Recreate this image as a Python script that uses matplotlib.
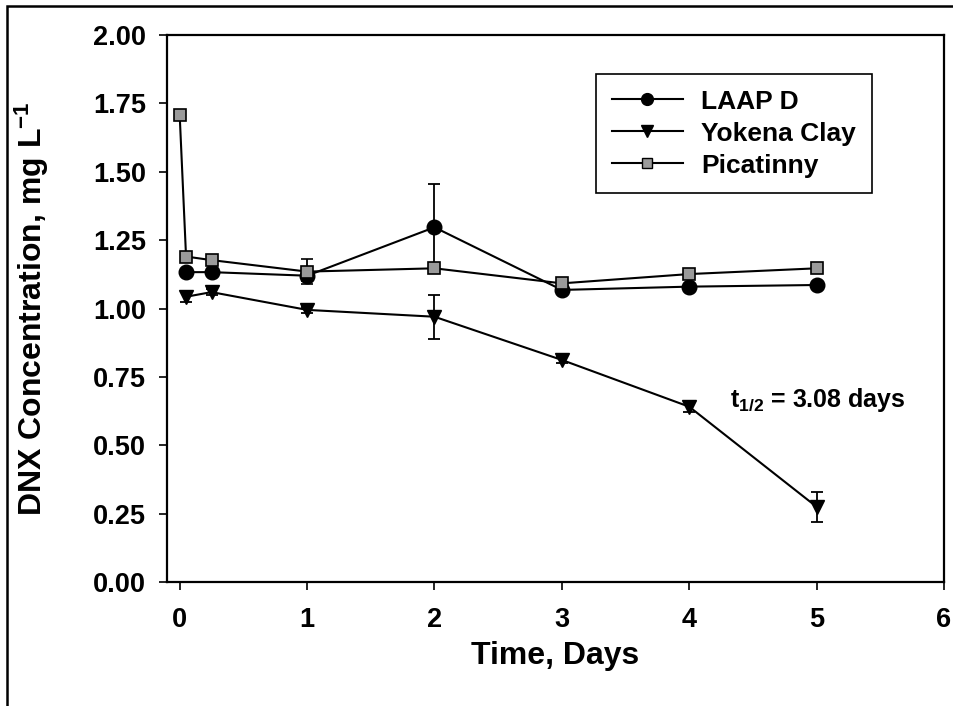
import matplotlib
matplotlib.use("Agg")
import matplotlib.pyplot as plt
from matplotlib.patches import Rectangle
from matplotlib.lines import Line2D

# Data
laap_x = [0.05, 0.25, 1, 2, 3, 4, 5]
laap_y = [1.133, 1.133, 1.12, 1.297, 1.068, 1.08, 1.086]
laap_err = [0.01, 0.01, 0.02, 0.16, 0.01, 0.01, 0.01]

yok_x = [0.05, 0.25, 1, 2, 3, 4, 5]
yok_y = [1.043, 1.06, 0.995, 0.97, 0.812, 0.641, 0.275]
yok_err = [0.02, 0.01, 0.01, 0.08, 0.01, 0.02, 0.055]

pic_x = [0, 0.05, 0.25, 1, 2, 3, 4, 5]
pic_y = [1.707, 1.19, 1.177, 1.135, 1.147, 1.092, 1.126, 1.147]
pic_err = [0.01, 0.01, 0.01, 0.045, 0.01, 0.01, 0.01, 0.01]

x_ticks = [0, 1, 2, 3, 4, 5, 6]
y_ticks = [0.00, 0.25, 0.50, 0.75, 1.00, 1.25, 1.50, 1.75, 2.00]

plt.rcParams["font.family"] = ["Liberation Sans", "DejaVu Sans"]
plt.rcParams["font.weight"] = "bold"
plt.rcParams["mathtext.fontset"] = "custom"
plt.rcParams["mathtext.rm"] = "Liberation Sans:bold"
plt.rcParams["mathtext.bf"] = "Liberation Sans:bold"
plt.rcParams["mathtext.it"] = "Liberation Sans:bold"

fig = plt.figure(figsize=(9.54, 7.06), dpi=100)
ax = fig.add_axes([0.175, 0.1756, 0.8145, 0.7748])

# outer frame of the figure
fig.patches.append(Rectangle((7 / 954, -0.1), 1.2, 1.1 - 6 / 706, transform=fig.transFigure,
                             fill=False, edgecolor="black", linewidth=1.8))

common = dict(color="black", linewidth=1.5, capsize=4, elinewidth=1.3, capthick=1.3)
pic_face = "#9a9a9a"
ax.errorbar(laap_x, laap_y, yerr=laap_err, marker="o", markersize=10.5,
            markerfacecolor="black", **common)
ax.errorbar(yok_x, yok_y, yerr=yok_err, marker="v", markersize=10.5,
            markerfacecolor="black", **common)
ax.errorbar(pic_x, pic_y, yerr=pic_err, marker="s", markersize=9,
            markerfacecolor=pic_face, markeredgecolor="black", markeredgewidth=1.2,
            **common)

ax.set_xlim(-0.1, 6)
ax.set_ylim(0, 2.0)
ax.set_xticks(x_ticks)
ax.set_yticks(y_ticks)
ax.set_yticklabels([f"{v:.2f}" for v in y_ticks])
ax.tick_params(direction="out", length=6, width=1.2, labelsize=19.5, pad=9)
ax.tick_params(axis="x", pad=12)
for s in ax.spines.values():
    s.set_linewidth(1.6)

ax.set_xlabel("Time, Days", fontsize=23, fontweight="bold", labelpad=6)
ax.set_ylabel("DNX Concentration, mg L$^{-1}$", fontsize=23, fontweight="bold", labelpad=30)

ax.text(4.32, 0.665, "t$_{1/2}$ = 3.08 days", fontsize=18, fontweight="bold",
        va="center", ha="left")

handles = [
    Line2D([], [], color="black", linewidth=1.5, marker="o", markersize=8.5, markerfacecolor="black"),
    Line2D([], [], color="black", linewidth=1.5, marker="v", markersize=8.5, markerfacecolor="black"),
    Line2D([], [], color="black", linewidth=1.5, marker="s", markersize=7, markerfacecolor=pic_face,
           markeredgecolor="black"),
]
leg = ax.legend(handles, ["LAAP D", "Yokena Clay", "Picatinny"],
                loc="upper left", bbox_to_anchor=(0.552, 0.929), fontsize=19,
                frameon=True, fancybox=False, framealpha=1, edgecolor="black",
                handlelength=2.7, borderpad=0.6, labelspacing=0.3, handletextpad=0.7,
                borderaxespad=0)
leg.get_frame().set_linewidth(1.2)

fig.savefig("out.png", dpi=100)
